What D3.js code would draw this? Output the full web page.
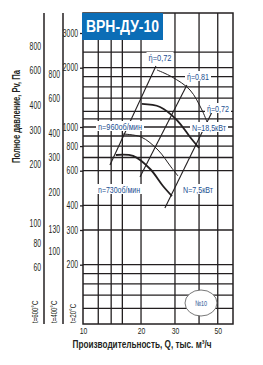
<!DOCTYPE html>
<html>
<head>
<meta charset="utf-8">
<script src="https://cdnjs.cloudflare.com/ajax/libs/d3/7.8.5/d3.min.js"></script>
<style>
  body { margin: 0; background: #fff; }
  text { font-family: "Liberation Sans Narrow", "Liberation Sans", Arial, sans-serif; fill: #231f20; }
</style>
</head>
<body>
<div id="chart"></div>
<script>
// flow Q, thousand m3/h (log axis)
const qTicks = [10, 20, 30, 50];
const qGrid = [12, 14, 16, 20, 30, 40, 50];
// pressure Pv, Pa at t=20°C (log axis)
const pGrid = [2400, 2000, 1800, 1600, 1400, 1200, 1100, 1000, 900, 800, 700, 600, 400, 300, 200, 180, 160, 140, 120];
const pTicks20 = [3000, 2000, 1000, 800, 600, 400, 300, 200];
const pTicks400 = [800, 600, 400, 300, 200, 130, 100];
const pTicks600 = [800, 600, 400, 300, 200, 100, 80, 60];
// fan curves [Q, P]
const curveTop = [[24.2, 1947], [28.95, 1795], [35.9, 1541], [41.4, 1220], [44.0, 1060]];
const curve960 = [[20.2, 1309], [25.1, 1264], [30.7, 1085], [35.9, 890], [40.0, 782]];
const curveMid = [[16.1, 921], [20.0, 890], [24.5, 764], [28.6, 627], [31.1, 564]];
const curve730 = [[14.8, 721], [18.2, 713], [22.3, 612], [26.0, 502], [28.95, 446]];
// efficiency rays [Q, P] ends
const eta72a = [[13.8, 641], [23.9, 2040]];
const eta81 = [[19.75, 557], [34.6, 1634]];
const eta72b = [[26.6, 388], [46.7, 1192]];

const W = 263, H = 365;
const svg = d3.select('#chart').append('svg')
    .attr('width', W).attr('height', H);

const x = d3.scaleLog().domain([10, 60]).range([83, 233]);
const y = d3.scaleLog().domain([100, 3790]).range([324, 13]);
const y400 = d3.scaleLog().domain([100 * 0.43, 3790 * 0.43]).range([324, 13]);
const y600 = d3.scaleLog().domain([100 * 0.31, 3790 * 0.31]).range([324, 13]);

const ink = '#231f20';

// grid
svg.append('g').selectAll('line').data(qGrid).join('line')
    .attr('x1', d => x(d)).attr('x2', d => x(d))
    .attr('y1', 13).attr('y2', 324)
    .attr('stroke', ink).attr('stroke-width', 1.3);
svg.append('g').selectAll('line').data(pGrid).join('line')
    .attr('x1', 83).attr('x2', 233)
    .attr('y1', d => y(d)).attr('y2', d => y(d))
    .attr('stroke', ink).attr('stroke-width', 1.3);
svg.append('rect')
    .attr('x', 83).attr('y', 13).attr('width', 150).attr('height', 311)
    .attr('fill', 'none').attr('stroke', ink).attr('stroke-width', 1.5);

// narrow labels
function squeeze (sel, k) {
    sel.each(function () {
        const n = this.textContent.length;
        d3.select(this).attr('textLength', n * k).attr('lengthAdjust', 'spacingAndGlyphs');
    });
}

// pressure axes
function pAxis (scale, ticks, xpos, line, tick) {
    const g = svg.append('g')
        .attr('transform', `translate(${xpos},0)`)
        .call(d3.axisLeft(scale).tickValues(ticks).tickFormat(d3.format('d')).tickSize(tick).tickPadding(tick ? 2 : 3));
    g.select('.domain').remove();
    g.selectAll('line').attr('stroke', ink).attr('stroke-width', 1.3);
    g.selectAll('text').attr('font-size', 10).attr('fill', ink).call(squeeze, 3.8);
    if (line) {
        svg.append('line').attr('x1', xpos).attr('x2', xpos).attr('y1', 13).attr('y2', 324)
            .attr('stroke', ink).attr('stroke-width', 1.5);
    }
}
pAxis(y600, pTicks600, 44, true, 0);
pAxis(y400, pTicks400, 63, true, 0);
pAxis(y, pTicks20, 83, false, 3);

// temperature captions
[['t=600°C', 38], ['t=400°C', 57], ['t=20°C', 76]].forEach(([t, xp]) => {
    svg.append('text').text(t)
        .attr('transform', `translate(${xp},323) rotate(-90)`)
        .attr('font-size', 9).attr('textLength', t.length * 3.2).attr('lengthAdjust', 'spacingAndGlyphs');
});

// Q axis
const gx = svg.append('g')
    .attr('transform', 'translate(0,324)')
    .call(d3.axisBottom(x).tickValues(qTicks).tickFormat(d3.format('d')).tickSize(0).tickPadding(3));
gx.select('.domain').remove();
gx.selectAll('text').attr('font-size', 9.5).attr('fill', ink).call(squeeze, 3.8);

// titles
svg.append('text')
    .attr('x', 142).attr('y', 347.5).attr('text-anchor', 'middle')
    .attr('font-size', 10.5).attr('font-weight', 'bold')
    .attr('textLength', 139).attr('lengthAdjust', 'spacingAndGlyphs')
    .text('Производительность, Q, тыс. м³/ч');
svg.append('text')
    .attr('transform', 'translate(19.5,116.5) rotate(-90)').attr('text-anchor', 'middle')
    .attr('font-size', 11).attr('font-weight', 'bold')
    .attr('textLength', 93).attr('lengthAdjust', 'spacingAndGlyphs')
    .text('Полное давление, Pv, Па');

// model badge
svg.append('rect').attr('x', 82).attr('y', 13).attr('width', 81).attr('height', 27).attr('fill', '#0b6db6');
svg.append('text').attr('x', 86).attr('y', 32)
    .attr('font-family', 'Roboto, Arial, sans-serif').attr('font-weight', 'bold').attr('font-size', 16)
    .attr('textLength', 73).attr('lengthAdjust', 'spacingAndGlyphs')
    .style('fill', '#fff').text('ВРН-ДУ-10');

// curves
const line = d3.line().x(d => x(d[0])).y(d => y(d[1])).curve(d3.curveCatmullRom);
const plain = d3.line().x(d => x(d[0])).y(d => y(d[1]));
svg.append('path').attr('d', line(curveTop)).attr('fill', 'none').attr('stroke', ink).attr('stroke-width', 1);
svg.append('path').attr('d', line(curve960)).attr('fill', 'none').attr('stroke', ink).attr('stroke-width', 1.8);
svg.append('path').attr('d', line(curveMid)).attr('fill', 'none').attr('stroke', ink).attr('stroke-width', 1);
svg.append('path').attr('d', line(curve730)).attr('fill', 'none').attr('stroke', ink).attr('stroke-width', 1.8);
[eta72a, eta81, eta72b].forEach(r => {
    svg.append('path').attr('d', plain(r)).attr('fill', 'none').attr('stroke', ink).attr('stroke-width', 1.1);
});

// labels with white backing
const blue = '#1d4f91';
function label (txt, cx, cy, w) {
    svg.append('rect').attr('x', cx - w / 2 - 2).attr('y', cy - 5).attr('width', w + 4).attr('height', 10).attr('fill', '#fff');
    svg.append('text').attr('x', cx).attr('y', cy + 3.5).attr('text-anchor', 'middle')
        .attr('font-size', 9.5).attr('textLength', w).attr('lengthAdjust', 'spacingAndGlyphs')
        .style('fill', blue).text(txt);
}
label('ή=0,72', 160, 57, 23);
label('ή=0,81', 198, 76, 22);
label('ή=0,72', 218, 108, 22);
label('N=18,5кВт', 209, 127, 34);
label('n=960об/мин', 120, 126, 44);
label('n=730об/мин', 119, 189, 42);
label('N=7,5кВт', 198, 189, 30);

// size badge
svg.append('ellipse').attr('cx', 201).attr('cy', 303).attr('rx', 16).attr('ry', 13)
    .attr('fill', '#fff').attr('stroke', '#555').attr('stroke-width', 0.8);
svg.append('text').attr('x', 201).attr('y', 305.5).attr('text-anchor', 'middle')
    .attr('font-size', 8).attr('textLength', 12).attr('lengthAdjust', 'spacingAndGlyphs')
    .style('fill', blue).text('№10');
</script>
</body>
</html>
